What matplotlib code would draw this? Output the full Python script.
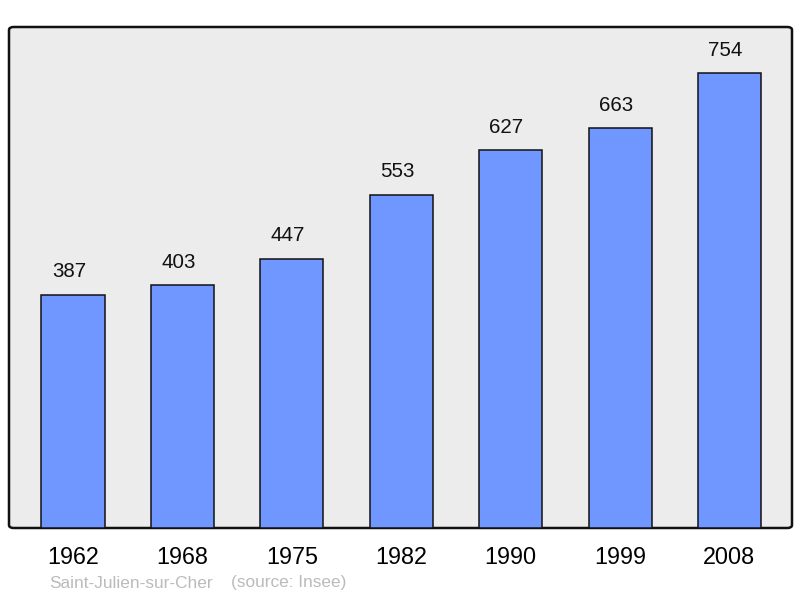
import matplotlib
matplotlib.use("Agg")
import matplotlib.pyplot as plt
from matplotlib.patches import FancyBboxPatch

years = ["1962", "1968", "1975", "1982", "1990", "1999", "2008"]
population = [387, 403, 447, 553, 627, 663, 754]
commune = "Saint-Julien-sur-Cher"
source = "(source: Insee)"

plt.rcParams['font.family'] = ['Liberation Sans', 'DejaVu Sans']

W, H = 800, 598
fig = plt.figure(figsize=(W / 100, H / 100), dpi=100)
ax = fig.add_axes([9 / W, (H - 528) / H, 783 / W, 501 / H])
ax.set_facecolor('none')
for s in ax.spines.values():
    s.set_visible(False)

frame = FancyBboxPatch((0, 0), 1, 1, boxstyle="round,pad=0,rounding_size=0.006",
                       transform=ax.transAxes, facecolor="#ececec",
                       edgecolor="#111111", linewidth=1.8, zorder=0, clip_on=False)
ax.add_patch(frame)

x = list(range(len(years)))
ax.bar(x, population, width=0.576, color="#7096ff", edgecolor="#111111",
       linewidth=1.1, zorder=2)
for xi, v in zip(x, population):
    ax.annotate(str(v), (xi, v), xytext=(-3, 16.5), textcoords="offset points",
                ha="center", va="center", fontsize=14.8, color="#111111")

ax.set_xlim(-0.585, 6.572)
ax.set_ylim(0, 831)
ax.set_xticks(x)
ax.set_xticklabels(years, fontsize=16.8)
ax.tick_params(axis='x', length=0, pad=13)
ax.set_yticks([])

fig.text(49 / W, 1 - 583 / H, commune, fontsize=12.4, color="#bbbbbb", va="center")
fig.text(231 / W, 1 - 583 / H, source, fontsize=12.4, color="#bbbbbb", va="center")

fig.savefig("out.png", dpi=100)
